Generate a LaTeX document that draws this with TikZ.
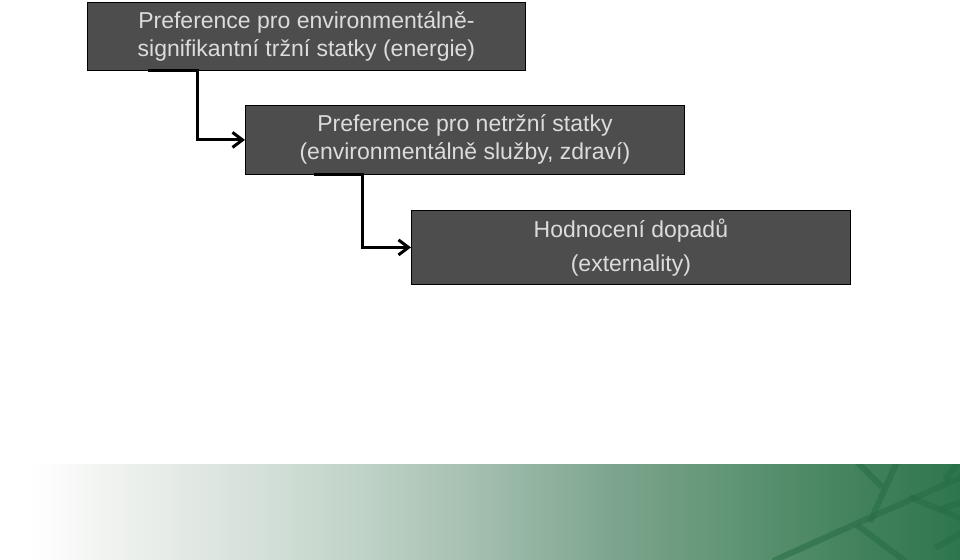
\documentclass[tikz,border=0pt]{standalone}
\usepackage{fontspec}
\setmainfont{Liberation Sans}
\usetikzlibrary{arrows.meta}
\definecolor{boxfill}{RGB}{77,77,77}
\definecolor{boxtext}{RGB}{220,220,220}
\definecolor{vein}{RGB}{38,108,68}
\pgfdeclarehorizontalshading{greenband}{100bp}{
  color(0bp)=(white);
  color(26.56bp)=(white);
  color(31.35bp)=(rgb,255:red,238;green,241;blue,238);
  color(37.76bp)=(rgb,255:red,215;green,226;blue,220);
  color(44.11bp)=(rgb,255:red,190;green,210;blue,198);
  color(50.52bp)=(rgb,255:red,160;green,188;blue,172);
  color(56.88bp)=(rgb,255:red,125;green,165;blue,142);
  color(63.28bp)=(rgb,255:red,95;green,148;blue,116);
  color(69.64bp)=(rgb,255:red,66;green,130;blue,92);
  color(75bp)=(rgb,255:red,46;green,118;blue,78);
  color(100bp)=(rgb,255:red,46;green,118;blue,78)
}
\tikzset{
  box/.style={draw=black, line width=0.8pt, fill=boxfill, text=boxtext,
    align=center, inner sep=0pt, anchor=north west,
    font=\fontsize{23}{28}\selectfont},
  link/.style={line width=3pt, draw=black,
    -{Straight Barb[length=10pt,width=15pt,line width=3pt]}},
  veinline/.style={line width=6pt, draw=vein, draw opacity=0.55, line cap=butt}
}
\begin{document}
\begin{tikzpicture}[x=1pt,y=-1pt]
\useasboundingbox (0,0) rectangle (960,559);
\fill[white] (0,0) rectangle (960,559);
% bottom band
\shade[shading=greenband] (0,464) rectangle (960,559);
\begin{scope}
  \clip (0,464) rectangle (960,559);
  \draw[veinline] (773,561) -- (860,522) -- (962,477);
  \draw[veinline] (857,462) -- (882,487);
  \draw[veinline] (897,462) -- (870,522);
  \draw[veinline] (857,525) -- (905,561);
  \draw[veinline] (910,497) -- (962,519);
  \draw[veinline] (938,510) -- (962,502);
  \draw[veinline] (935,548) -- (962,533);
  \draw[veinline] (945,480) -- (958,462);
\end{scope}
% boxes
\node[box, minimum width=438pt, minimum height=68pt] (b1) at (87,2)
  {\raisebox{-2pt}{Preference pro environmentálně-}\\\raisebox{-2pt}{signifikantní tržní statky (energie)}};
\node[box, minimum width=439pt, minimum height=69pt] (b2) at (245,105)
  {\raisebox{-2pt}{Preference pro netržní statky}\\\raisebox{-2pt}{(environmentálně služby, zdraví)}};
\node[box, minimum width=439pt, minimum height=74pt] (b3) at (411,210)
  {\raisebox{-3pt}{Hodnocení dopadů}\\[6pt]\raisebox{-3pt}{(externality)}};
% connectors
\draw[link] (b1.south west) ++(61,0) -- ++(49,0) |- (b2.west);
\draw[link] (b2.south west) ++(69,0) -- ++(48,0) |- (b3.west);
\end{tikzpicture}
\end{document}
